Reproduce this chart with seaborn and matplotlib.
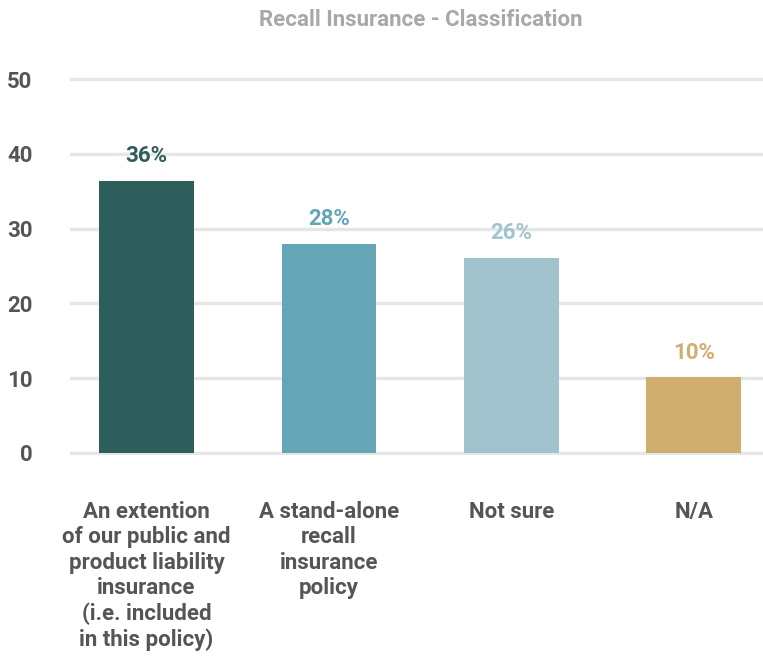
import matplotlib
matplotlib.use("Agg")
import matplotlib.pyplot as plt
import seaborn as sns
import pandas as pd
from matplotlib import font_manager

categories = [
    "An extention\nof our public and\nproduct liability\ninsurance\n(i.e. included\nin this policy)",
    "A stand-alone\nrecall\ninsurance\npolicy",
    "Not sure",
    "N/A",
]
values = [36.4, 28.0, 26.1, 10.1]
value_labels = ["36%", "28%", "26%", "10%"]
colors = ["#2e5e5b", "#64a6b5", "#a0c3ce", "#cfae6f"]
yticks = [0, 10, 20, 30, 40, 50]
title = "Recall Insurance - Classification"

sns.set_theme(style="white")
avail = {f.name for f in font_manager.fontManager.ttflist}
fam = [f for f in ["Roboto", "DejaVu Sans"] if f in avail]
plt.rcParams["font.family"] = fam

df = pd.DataFrame({"cat": categories, "val": values})

fig = plt.figure(figsize=(7.63, 6.59), dpi=100)
ax = fig.add_axes([70 / 763, 0.3093, 1 - 70 / 763, 0.8834 - 0.3093])

sns.barplot(data=df, x="cat", y="val", hue="cat", palette=colors,
            width=0.52, legend=False, ax=ax, saturation=1, zorder=3,
            linewidth=0, edgecolor="none")

ax.set_ylim(-0.3, 50.3)
ax.set_xlim(-0.42, 3.38)
ax.set_yticks(yticks)
for y in yticks:
    ax.axhline(y, color="#e6e6e6", lw=2.4, zorder=1)
for s in ax.spines.values():
    s.set_visible(False)
ax.tick_params(axis="both", length=0)
ax.tick_params(axis="y", pad=27, labelsize=16, labelcolor="#555555")
ax.tick_params(axis="x", pad=33, labelsize=16, labelcolor="#555555")
for lab in ax.get_yticklabels():
    lab.set_fontweight("bold")
for lab in ax.get_xticklabels():
    lab.set_fontweight("bold")
    lab.set_linespacing(1.2)
    lab.set_verticalalignment("top")
ax.set_xlabel("")
ax.set_ylabel("")

for i, (v, t, c) in enumerate(zip(values, value_labels, colors)):
    ax.annotate(t, (i, v), xytext=(0, 10), textcoords="offset points",
                ha="center", va="bottom", fontsize=16, fontweight="bold", color=c)

fig.text(421 / 763, 1 - 20 / 659, title, ha="center", va="center",
         fontsize=16, fontweight="bold", color="#a8a8a8")

fig.savefig("out.png", dpi=100, facecolor="white")
